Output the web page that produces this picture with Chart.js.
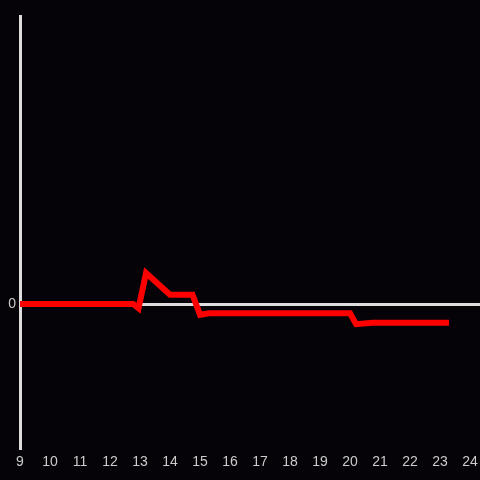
<!DOCTYPE html>
<html>
<head>
<meta charset="utf-8">
<script src="https://cdn.jsdelivr.net/npm/chart.js@4"></script>
<style>
  body { margin: 0; background: #050307; }
  canvas { display: block; }
</style>
</head>
<body>
<canvas id="chartLine" width="480" height="480"></canvas>
<script>
  // hours on the x axis
  const hours = [9, 12.77, 12.95, 13.2, 14.0, 14.75, 15.0, 15.3, 20.0, 20.2, 20.75, 23.3];
  const values = [0, 0, -0.03, 0.215, 0.065, 0.065, -0.075, -0.065, -0.065, -0.14, -0.13, -0.13];
  const xTicks = [9, 10, 11, 12, 13, 14, 15, 16, 17, 18, 19, 20, 21, 22, 23, 24];

  const points = hours.map((h, i) => ({ x: h, y: values[i] }));

  const bg = {
    id: 'bg',
    beforeDraw(chart) {
      const c = chart.ctx;
      c.save();
      c.fillStyle = '#050307';
      c.fillRect(0, 0, chart.width, chart.height);
      c.restore();
    }
  };

  const ctx = document.getElementById('chartLine').getContext('2d');
  const chartLine = new Chart(ctx, {
    type: 'line',
    data: {
      datasets: [{
        data: points,
        borderColor: '#ff0000',
        borderWidth: 6,
        pointRadius: 0,
        fill: false,
        tension: 0
      }]
    },
    options: {
      responsive: false,
      animation: false,
      layout: { padding: { top: 16, right: 0, left: 0, bottom: 0 } },
      plugins: { legend: { display: false }, tooltip: { enabled: false } },
      scales: {
        x: {
          type: 'linear',
          min: 9,
          max: 24.33,
          afterBuildTicks: axis => { axis.ticks = xTicks.map(v => ({ value: v })); },
          afterFit: axis => {
            axis.height = 32;
            axis.paddingLeft = 0;
            axis.paddingRight = 0;
          },
          grid: { display: false, drawTicks: false },
          border: { display: false },
          ticks: {
            color: '#cccccc',
            font: { family: 'Liberation Sans', size: 14 },
            padding: 6,
            maxRotation: 0,
            autoSkip: false
          }
        },
        y: {
          min: -1,
          max: 2,
          afterBuildTicks: axis => { axis.ticks = [{ value: 0 }]; },
          afterFit: axis => {
            axis.width = 20;
            axis.paddingTop = 0;
            axis.paddingBottom = 0;
          },
          grid: {
            color: ctx => ctx.tick && ctx.tick.value === 0 ? '#dddddd' : 'transparent',
            lineWidth: 3,
            drawTicks: false
          },
          border: { display: true, color: '#dddddd', width: 3 },
          ticks: {
            color: '#cccccc',
            font: { family: 'Liberation Sans', size: 14 },
            padding: 4,
            callback: v => v === 0 ? '0' : ''
          }
        }
      }
    },
    plugins: [bg]
  });
</script>
</body>
</html>
